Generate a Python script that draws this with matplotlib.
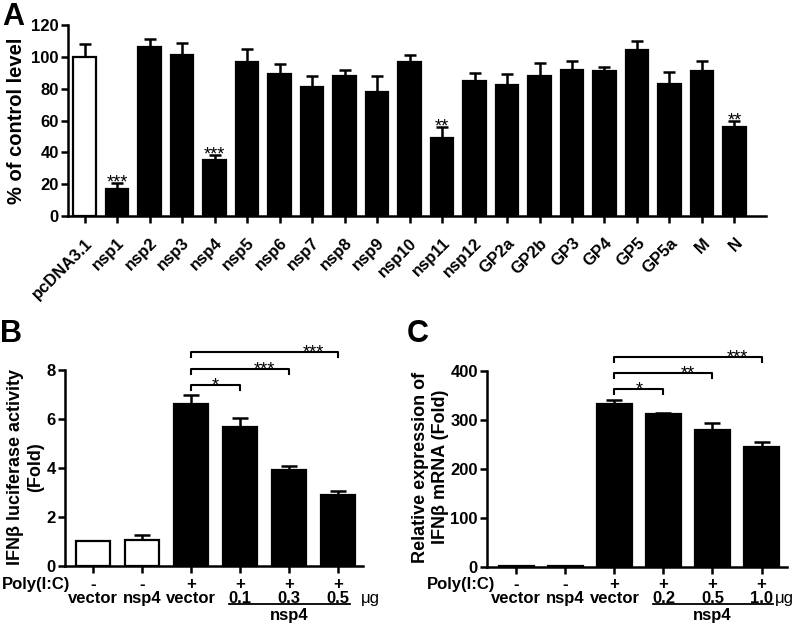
import matplotlib
matplotlib.use('Agg')
import matplotlib.pyplot as plt
import matplotlib.transforms as mtransforms
import numpy as np

plt.rcParams['font.family'] = ['Liberation Sans', 'DejaVu Sans']
plt.rcParams['font.weight'] = 'bold'

# ---- data ----
labels_a = ['pcDNA3.1', 'nsp1', 'nsp2', 'nsp3', 'nsp4', 'nsp5', 'nsp6', 'nsp7', 'nsp8',
            'nsp9', 'nsp10', 'nsp11', 'nsp12', 'GP2a', 'GP2b', 'GP3', 'GP4', 'GP5',
            'GP5a', 'M', 'N']
vals_a = [100, 17, 106, 101, 35, 97, 89, 81, 88, 78, 97, 49, 85, 82, 88, 92, 91, 104, 83, 91, 56]
err_a = [8, 4, 5, 8, 3.5, 8, 6.5, 7, 4, 10, 4, 7, 5, 7, 8, 5.5, 2.5, 6, 7.5, 6.5, 4]
stars_a = {1: '***', 4: '***', 11: '**', 20: '**'}

poly_row = ['-', '-', '+', '+', '+', '+']
treat_b = ['vector', 'nsp4', 'vector', '0.1', '0.3', '0.5']
treat_c = ['vector', 'nsp4', 'vector', '0.2', '0.5', '1.0']

vals_b = [1.0, 1.05, 6.6, 5.67, 3.93, 2.88]
err_b = [0, 0.2, 0.37, 0.37, 0.15, 0.17]
sig_b = [(2, 3, 7.39, '*'), (2, 4, 8.04, '***'), (2, 5, 8.73, '***')]

vals_c = [2, 2, 333, 312, 280, 245]
err_c = [0, 0, 8, 3, 14, 10]
sig_c = [(2, 3, 363, '*'), (2, 4, 396, '**'), (2, 5, 429, '***')]

fig = plt.figure(figsize=(8, 6.27), dpi=100)


def style_axes(ax):
    for s in ['top', 'right']:
        ax.spines[s].set_visible(False)
    for s in ['left', 'bottom']:
        ax.spines[s].set_linewidth(1.8)
    ax.tick_params(direction='out', length=5, width=1.8, labelsize=12)
    ax.tick_params(axis='y', pad=1.5)
    for t in ax.get_yticklabels():
        t.set_fontweight('bold')


def bars(ax, vals, err, fills, capsize):
    x = np.arange(len(vals))
    ax.bar(x, vals, width=0.7, color=fills, edgecolor='black', linewidth=1.6, zorder=2)
    idx = [i for i in range(len(vals)) if err[i] > 0]
    ax.errorbar(x[idx], np.array(vals)[idx],
                yerr=[np.zeros(len(idx)), np.array(err)[idx]],
                fmt='none', ecolor='black', elinewidth=1.8, capsize=capsize,
                capthick=1.8, zorder=1)


def bracket(ax, i0, i1, y, txt, drop):
    ax.plot([i0, i0, i1, i1], [y - drop, y, y, y - drop], color='black',
            lw=1.5, clip_on=False)
    ax.annotate(txt, xy=(i1 - 0.5, y), xytext=(0, -4), textcoords='offset points',
                ha='center', va='baseline', fontsize=13, fontweight='normal',
                annotation_clip=False)


# ---- panel A ----
axA = fig.add_axes([0.085, 0.6555, 0.8725, 0.3046])
xa = np.arange(len(vals_a))
fills_a = ['white'] + ['black'] * (len(vals_a) - 1)
bars(axA, vals_a, err_a, fills_a, 4)
for i, s in stars_a.items():
    axA.annotate(s, xy=(i, vals_a[i] + err_a[i]), xytext=(0, -3.5),
                 textcoords='offset points', ha='center', va='baseline',
                 fontsize=13, fontweight='normal')
axA.set_xlim(-0.51, 20.97)
axA.set_ylim(0, 120)
axA.set_yticks([0, 20, 40, 60, 80, 100, 120])
axA.set_xticks(xa)
axA.set_xticklabels(labels_a, rotation=45, ha='right', rotation_mode='anchor',
                    fontweight='bold', fontsize=12.5)
style_axes(axA)
axA.tick_params(axis='x', pad=9)
fig.text(0.021, 0.807, '% of control level', rotation=90, ha='center', va='center',
         fontsize=14.5, fontweight='bold')
fig.text(0.003, 0.997, 'A', ha='left', va='top', fontsize=22, fontweight='bold')


def lower_panel(ax, vals, err, sig, treat, ylim, ticks, drop, xlim, ylab, ylab_x,
                letter, letter_x, poly_x, ug_x):
    fills = ['white', 'white', 'black', 'black', 'black', 'black']
    bars(ax, vals, err, fills, 5.5)
    for i0, i1, y, s in sig:
        bracket(ax, i0, i1, y, s, drop)
    ax.set_xlim(*xlim)
    ax.set_ylim(0, ylim)
    ax.set_yticks(ticks)
    ax.spines['left'].set_bounds(ticks[0], ticks[-1])
    ax.set_xticks(np.arange(6))
    ax.set_xticklabels([])
    style_axes(ax)
    tr = mtransforms.blended_transform_factory(ax.transData, fig.transFigure)
    for i in range(6):
        ax.text(i, 0.068, poly_row[i], transform=tr, ha='center', va='center',
                fontsize=12, fontweight='bold')
        ax.text(i, 0.0455, treat[i], transform=tr, ha='center', va='center',
                fontsize=12, fontweight='bold')
    fig.text(poly_x, 0.068, 'Poly(I:C)', ha='left', va='center',
             fontsize=12, fontweight='bold')
    ax.text(ug_x, 0.0455, 'μg', transform=tr, ha='center', va='center',
            fontsize=12, fontweight='normal')
    ax.plot([2.78, 5.24], [0.0367, 0.0367], transform=tr, color='black', lw=1.3,
            clip_on=False)
    ax.text(4.0, 0.019, 'nsp4', transform=tr, ha='center', va='center',
            fontsize=12, fontweight='bold')
    fig.text(ylab_x, 0.255, ylab, rotation=90, ha='center', va='center',
             fontsize=13, fontweight='bold', linespacing=1.25, multialignment='center')
    fig.text(letter_x, 0.492, letter, ha='left', va='top', fontsize=22, fontweight='bold')


# ---- panel B ----
axB = fig.add_axes([0.08125, 0.0973, 0.3725, 0.3517])
lower_panel(axB, vals_b, err_b, sig_b, treat_b, 9, [0, 2, 4, 6, 8], 0.2,
            (-0.57, 5.51), 'IFNβ luciferase activity\n(Fold)', 0.032, 'B', 0.0,
            0.002, 5.67)

# ---- panel C ----
axC = fig.add_axes([0.60875, 0.0957, 0.375, 0.3517])
lower_panel(axC, vals_c, err_c, sig_c, treat_c, 450, [0, 100, 200, 300, 400], 10,
            (-0.60, 5.52), 'Relative expression of\nIFNβ mRNA (Fold)', 0.538, 'C', 0.508,
            0.534, 5.47)

fig.savefig('out.png', dpi=100)
